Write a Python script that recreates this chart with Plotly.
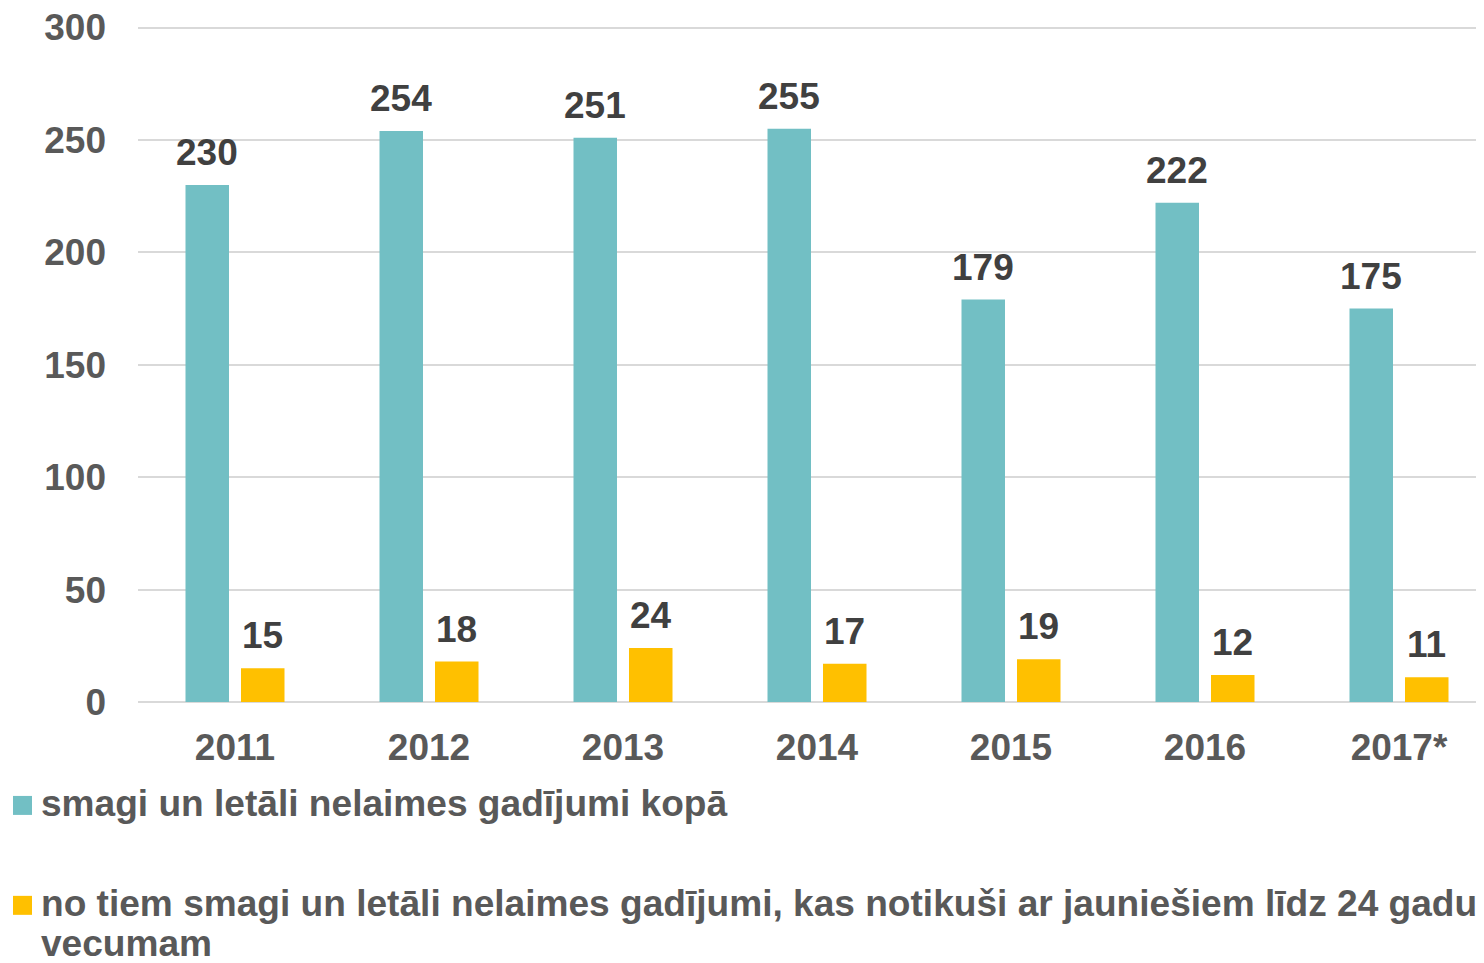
import plotly.graph_objects as go

years = ["2011", "2012", "2013", "2014", "2015", "2016", "2017*"]
total = [230, 254, 251, 255, 179, 222, 175]
youth = [15, 18, 24, 17, 19, 12, 11]
legend_lines = [
    ["smagi un letāli nelaimes gadījumi kopā"],
    ["no tiem smagi un letāli nelaimes gadījumi, kas notikuši ar jauniešiem līdz 24 gadu",
     "vecumam"],
]
colors = ["#72BFC4", "#FFC000"]

OFF = 8  # default page body margin
W, H = 1484 - OFF, 963 - OFF
plot_left, plot_right = 138, 1484          # page pixels
y0_px, per_unit = 702, 2.25                # page pixel of value 0, pixels per unit
ymax = 302
plot_top = y0_px - ymax * per_unit
ml = plot_left - OFF
mr = 0
mt = plot_top - OFF
mb = H - (y0_px - OFF)
PW = W - ml - mr
PH = H - mt - mb
slot_px = 55.5
group_px = 194.0

def px_x(p):
    return (p - OFF - ml) / PW

def px_y(p):
    return 1 - (p - OFF - mt) / PH

FONT = "Liberation Sans, Arial, sans-serif"
FS = 37
LFS = 37.1

fig = go.Figure()
for vals, col in zip([total, youth], colors):
    fig.add_trace(go.Bar(x=years, y=vals, marker_color=col,
                         marker_line_width=0, showlegend=False))

ann = []
for vals, shift in zip([total, youth], [-slot_px / 2, slot_px / 2]):
    for i, v in enumerate(vals):
        ann.append(dict(x=i, y=v, xref="x", yref="y", text=str(v), showarrow=False,
                        yanchor="bottom", xanchor="center", xshift=shift, yshift=10,
                        font=dict(family=FONT, size=FS, color="#404040", weight="bold")))

shapes = []
sq_top = [796, 896]
baselines = [[815], [915, 955]]
for lines, col, st, bls in zip(legend_lines, colors, sq_top, baselines):
    shapes.append(dict(type="rect", xref="paper", yref="paper",
                       x0=px_x(13), x1=px_x(32), y0=px_y(st + 19), y1=px_y(st),
                       fillcolor=col, line_width=0))
    for txt, bl in zip(lines, bls):
        ann.append(dict(x=px_x(39), y=px_y(bl - 35), xref="paper", yref="paper",
                        text=txt, showarrow=False, xanchor="left", yanchor="top",
                        align="left",
                        font=dict(family=FONT, size=LFS, color="#595959", weight="bold")))

fig.update_layout(
    width=W, height=H,
    margin=dict(l=ml, r=mr, t=mt, b=mb, autoexpand=False),
    plot_bgcolor="white", paper_bgcolor="white",
    barmode="group", bargap=1 - 2 * slot_px / group_px, bargroupgap=12 / slot_px,
    annotations=ann, shapes=shapes,
    font=dict(family=FONT),
)
fig.update_xaxes(range=[-0.5, -0.5 + PW / group_px], showgrid=False,
                 tickfont=dict(size=FS, color="#595959", weight="bold"),
                 ticklabelstandoff=20, showline=False, zeroline=False,
                 ticklabeloverflow="allow")
fig.update_yaxes(range=[0, ymax], tickvals=[0, 50, 100, 150, 200, 250, 300],
                 showgrid=True, gridcolor="#D9D9D9", gridwidth=2,
                 zeroline=True, zerolinecolor="#D9D9D9", zerolinewidth=2,
                 tickfont=dict(size=FS, color="#595959", weight="bold"),
                 ticklabelstandoff=31, showline=False, ticklabeloverflow="allow")

fig.write_html("out.html")
